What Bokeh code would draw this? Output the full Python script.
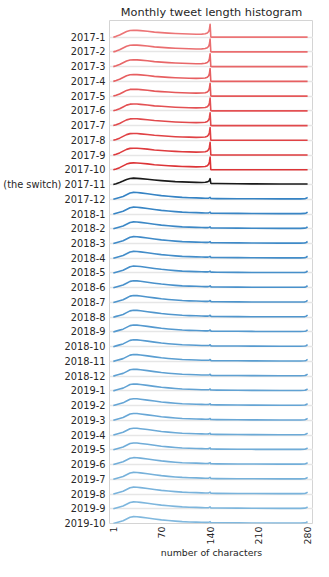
import math
from bokeh.plotting import figure
from bokeh.models import Range1d, FixedTicker, ColumnDataSource
from bokeh.embed import file_html
from bokeh.resources import INLINE

# ---- data -------------------------------------------------------------
months = ["2017-1", "2017-2", "2017-3", "2017-4", "2017-5", "2017-6", "2017-7",
          "2017-8", "2017-9", "2017-10", "2017-11", "2017-12",
          "2018-1", "2018-2", "2018-3", "2018-4", "2018-5", "2018-6", "2018-7",
          "2018-8", "2018-9", "2018-10", "2018-11", "2018-12",
          "2019-1", "2019-2", "2019-3", "2019-4", "2019-5", "2019-6", "2019-7",
          "2019-8", "2019-9", "2019-10"]
month_labels = [("(the switch) " + m) if m == "2017-11" else m for m in months]

# era of each month: 140-char limit, the switch month, 280-char limit
month_era = ["red"] * 10 + ["switch"] + ["blue"] * 23

# tweet length (characters) at which the histogram is sampled
x_chars = [1, 5, 10, 15, 20, 25, 30, 35, 40, 50, 60, 70, 80, 90, 100, 110, 120,
           128, 133, 136, 138, 139, 140, 141, 142, 150, 180, 200, 240, 270, 276, 278, 280]

# relative frequency (per mille of tweets) at each length
freq_140_limit = [0, 0.8, 2.2, 4.0, 5.8, 6.8, 7.0, 6.9, 6.6, 6.0, 5.1, 4.6, 4.1, 3.7, 3.4, 3.2, 3.0,
                  3.1, 3.4, 4.2, 5.8, 8.0, 13.0, 0.3, 0, 0, 0, 0, 0, 0, 0, 0, 0]
freq_switch = [0, 0.7, 2.0, 3.5, 5.2, 6.2, 6.5, 6.3, 6.0, 5.3, 4.6, 4.0, 3.5, 3.0, 2.7, 2.4, 2.2,
               2.1, 2.3, 2.7, 3.4, 4.3, 6.0, 1.3, 1.1, 1.0, 0.8, 0.7, 0.6, 0.5, 0.5, 0.5, 0.5]
freq_280_limit = [0, 0.8, 1.8, 2.8, 4.6, 6.4, 7.0, 6.9, 6.5, 5.6, 4.6, 3.7, 3.0, 2.4, 1.9, 1.6, 1.4,
                  1.2, 1.1, 1.1, 1.2, 1.5, 1.9, 0.9, 0.8, 0.7, 0.6, 0.5, 0.4, 0.4, 0.6, 1.0, 2.0]
profiles = {"red": freq_140_limit, "switch": freq_switch, "blue": freq_280_limit}

x_ticks = [1, 70, 140, 210, 280]

# ---- style ------------------------------------------------------------
ROW_PER_UNIT = 1.0 / 15.0   # one row spacing = 15 per-mille units
FONT = "DejaVu Sans"
TEXT = "#262626"
Y_LABEL_SIZE = "9.8px"
X_LABEL_SIZE = "9.4px"


def lerp_hex(c1, c2, t):
    a = [int(c1[i:i + 2], 16) for i in (1, 3, 5)]
    b = [int(c2[i:i + 2], 16) for i in (1, 3, 5)]
    return "#" + "".join("%02x" % round(a[k] + (b[k] - a[k]) * t) for k in range(3))


colors = []
n_red = month_era.count("red")
n_blue = month_era.count("blue")
ri = bi = 0
for era in month_era:
    if era == "red":
        colors.append(lerp_hex("#ec7476", "#dc3437", ri / (n_red - 1)))
        ri += 1
    elif era == "switch":
        colors.append("#1a1a1a")
    else:
        colors.append(lerp_hex("#3583c4", "#80b8de", bi / (n_blue - 1)))
        bi += 1

n = len(months)
p = figure(width=313, height=561, output_backend="svg", toolbar_location=None,
           x_range=Range1d(-4.5, 288.5), y_range=Range1d(-(n - 1), 1.13),
           min_border_left=109, min_border_right=0, min_border_top=20, min_border_bottom=32)

p.title.text = "Monthly tweet length histogram"
p.title.align = "center"
p.title.text_font = FONT
p.title.text_font_size = "11.3px"
p.title.text_font_style = "normal"
p.title.text_color = TEXT
p.title.standoff = 3

# curves (later rows drawn on top)
for i, (m, era) in enumerate(zip(months, month_era)):
    base = -i
    ys = [base + v * ROW_PER_UNIT for v in profiles[era]]
    src = ColumnDataSource(dict(x=x_chars, y=ys))
    p.line("x", "y", source=src, line_color=colors[i], line_width=1.6, line_join="round")

ticks = [-i for i in range(n)]
p.yaxis.ticker = FixedTicker(ticks=ticks)
p.yaxis.major_label_overrides = {-i: month_labels[i] for i in range(n)}
p.yaxis.major_label_text_font = FONT
p.yaxis.major_label_text_font_size = Y_LABEL_SIZE
p.yaxis.major_label_text_color = TEXT
p.yaxis.major_tick_line_color = None
p.yaxis.major_tick_out = 0
p.yaxis.major_tick_in = 0
p.yaxis.minor_tick_line_color = None
p.yaxis.minor_tick_out = 0
p.yaxis.axis_line_color = None
p.yaxis.major_label_standoff = 4

p.xaxis.ticker = FixedTicker(ticks=x_ticks)
p.xaxis.major_label_orientation = math.pi / 2
p.xaxis.major_label_text_font = FONT
p.xaxis.major_label_text_font_size = X_LABEL_SIZE
p.xaxis.major_label_text_color = TEXT
p.xaxis.major_tick_line_color = None
p.xaxis.major_tick_out = 0
p.xaxis.major_tick_in = 0
p.xaxis.minor_tick_line_color = None
p.xaxis.minor_tick_out = 0
p.xaxis.axis_line_color = None
p.xaxis.major_label_standoff = 3
p.xaxis.axis_label = "number of characters"
p.xaxis.axis_label_text_font = FONT
p.xaxis.axis_label_text_font_size = X_LABEL_SIZE
p.xaxis.axis_label_text_font_style = "normal"
p.xaxis.axis_label_text_color = TEXT
p.xaxis.axis_label_standoff = 0

p.xgrid.visible = False
p.ygrid.ticker = FixedTicker(ticks=ticks)
p.ygrid.grid_line_color = "#e6e6e6"
p.ygrid.grid_line_width = 1.5

p.outline_line_color = "#d4d4d4"
p.outline_line_width = 1
p.background_fill_color = "white"
p.border_fill_color = "white"

open("out.html", "w").write(file_html(p, INLINE))
